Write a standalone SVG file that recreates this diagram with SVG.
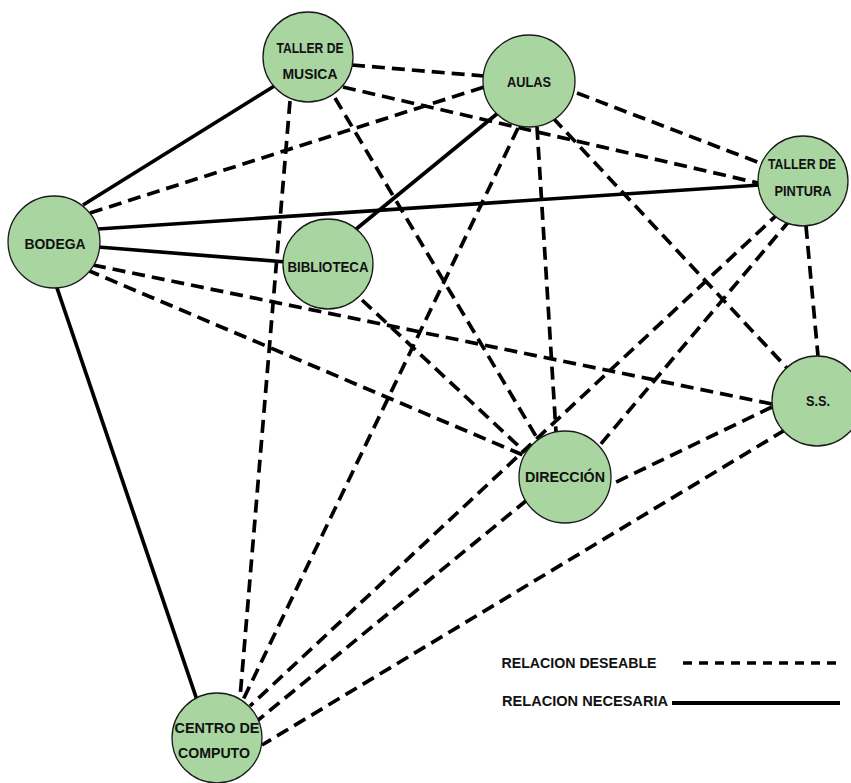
<svg xmlns="http://www.w3.org/2000/svg" width="851" height="783" viewBox="0 0 851 783">
<style>
.bg{fill:#ffffff}
.solid{stroke:#000;stroke-width:3.7;fill:none;stroke-linecap:butt}
.dash{stroke:#000;stroke-width:3.7;fill:none;stroke-dasharray:13 7}
.node circle{fill:#a8d5a0;stroke:#1a1a1a;stroke-width:1.3}
.node text,.legend text{font-family:"Liberation Sans",Arial,sans-serif;font-weight:bold;font-size:15px;fill:#111;text-anchor:middle}
</style>
<rect class="bg" x="0" y="0" width="851" height="783"/>
<g id="connectors">
<line class="solid" x1="83" y1="205" x2="276" y2="85"/>
<line class="solid" x1="98" y1="229" x2="760" y2="185"/>
<line class="solid" x1="98" y1="247" x2="286" y2="262"/>
<line class="solid" x1="498" y1="113" x2="355" y2="230"/>
<line class="solid" x1="56" y1="285" x2="197" y2="700"/>
<line class="dash" x1="352" y1="65" x2="484" y2="76"/>
<line class="dash" x1="343" y1="87" x2="758" y2="183"/>
<line class="dash" x1="577" y1="93" x2="760" y2="163"/>
<line class="dash" x1="335" y1="98" x2="540" y2="443"/>
<line class="dash" x1="290" y1="101" x2="240" y2="698"/>
<line class="dash" x1="90" y1="213" x2="484" y2="87"/>
<line class="dash" x1="87" y1="270" x2="523" y2="455"/>
<line class="dash" x1="93" y1="265" x2="772" y2="404"/>
<line class="dash" x1="537" y1="127" x2="556" y2="432"/>
<line class="dash" x1="553" y1="118" x2="787" y2="368"/>
<line class="dash" x1="518" y1="128" x2="243" y2="700"/>
<line class="dash" x1="362" y1="300" x2="525" y2="452"/>
<line class="dash" x1="806" y1="226" x2="818" y2="356"/>
<line class="dash" x1="790" y1="220" x2="600" y2="445"/>
<line class="dash" x1="780" y1="212" x2="250" y2="706"/>
<line class="dash" x1="772" y1="407" x2="610" y2="485"/>
<line class="dash" x1="785" y1="430" x2="262" y2="745"/>
<line class="dash" x1="527" y1="500" x2="257" y2="721"/>
</g>
<g id="taller-musica" class="node">
<circle cx="308" cy="57" r="45"/>
<text x="310" y="53" textLength="67" lengthAdjust="spacingAndGlyphs">TALLER DE</text>
<text x="310" y="79" textLength="55" lengthAdjust="spacingAndGlyphs">MUSICA</text>
</g>
<g id="aulas" class="node">
<circle cx="529" cy="81" r="46"/>
<text x="529" y="87" textLength="44" lengthAdjust="spacingAndGlyphs">AULAS</text>
</g>
<g id="taller-pintura" class="node">
<circle cx="803" cy="181" r="45"/>
<text x="802" y="169" textLength="68" lengthAdjust="spacingAndGlyphs">TALLER DE</text>
<text x="803" y="196" textLength="57" lengthAdjust="spacingAndGlyphs">PINTURA</text>
</g>
<g id="bodega" class="node">
<circle cx="54" cy="242" r="46"/>
<text x="55" y="249" textLength="61" lengthAdjust="spacingAndGlyphs">BODEGA</text>
</g>
<g id="biblioteca" class="node">
<circle cx="328" cy="264" r="45"/>
<text x="328" y="272" textLength="81" lengthAdjust="spacingAndGlyphs">BIBLIOTECA</text>
</g>
<g id="ss" class="node">
<circle cx="817" cy="401" r="45"/>
<text x="818" y="406" textLength="24" lengthAdjust="spacingAndGlyphs">S.S.</text>
</g>
<g id="direccion" class="node">
<circle cx="565" cy="477" r="46"/>
<text x="565" y="482" textLength="80" lengthAdjust="spacingAndGlyphs">DIRECCIÓN</text>
</g>
<g id="centro-computo" class="node">
<circle cx="217" cy="738" r="45"/>
<text x="217" y="733" textLength="85" lengthAdjust="spacingAndGlyphs">CENTRO DE</text>
<text x="214" y="758" textLength="72" lengthAdjust="spacingAndGlyphs">COMPUTO</text>
</g>
<g id="legend" class="legend">
<text x="579" y="668" textLength="155" lengthAdjust="spacingAndGlyphs">RELACION DESEABLE</text>
<line x1="683" y1="663" x2="840" y2="663" stroke="#000" stroke-width="3.7" stroke-dasharray="9 7"/>
<text x="585" y="706" textLength="166" lengthAdjust="spacingAndGlyphs">RELACION NECESARIA</text>
<line x1="672" y1="703" x2="840" y2="703" stroke="#000" stroke-width="3.8"/>
</g>
</svg>
